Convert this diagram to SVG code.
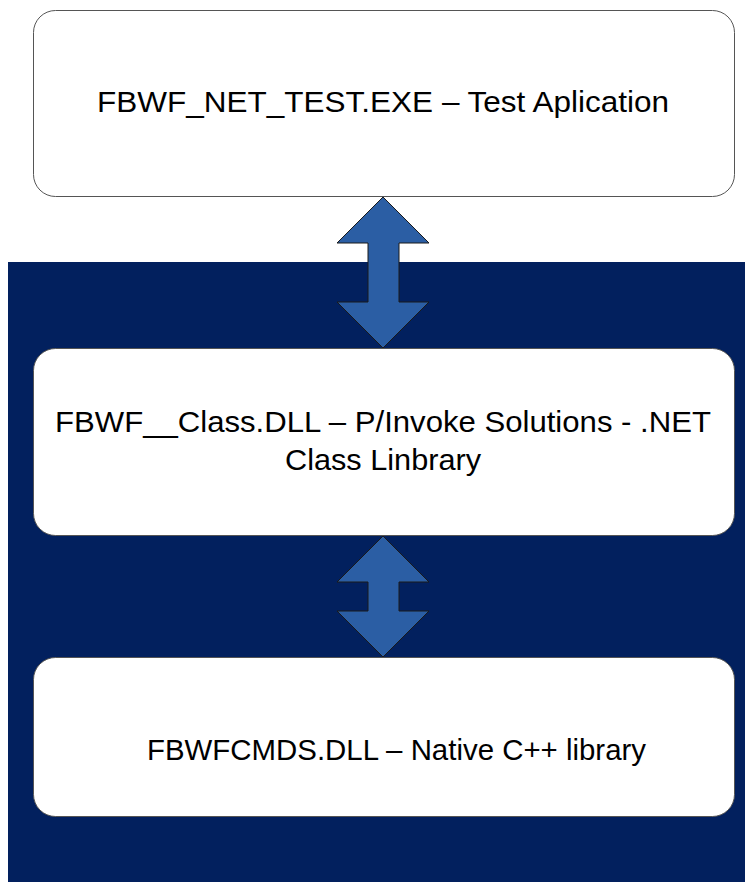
<svg xmlns="http://www.w3.org/2000/svg" width="745" height="882" viewBox="0 0 745 882">
<style>
.box{fill:#ffffff;stroke:#555555;stroke-width:1}
.lbl{font-family:"Liberation Sans",Arial,sans-serif;font-size:29px;fill:#000000;text-anchor:middle}
.arr{fill:#2B5EA4;stroke:#1a1a1a;stroke-width:1;stroke-linejoin:miter}
</style>
<rect x="0" y="0" width="745" height="882" fill="#ffffff"/>
<rect id="bg" x="8" y="262" width="737" height="620" fill="#02205E"/>
<g id="n1">
<rect class="box" x="33.5" y="10.5" width="701" height="186" rx="22"/>
<text class="lbl" x="383" y="112" textLength="572" lengthAdjust="spacingAndGlyphs">FBWF_NET_TEST.EXE – Test Aplication</text>
</g>
<g id="n2">
<rect class="box" x="33.5" y="348.5" width="701" height="187" rx="22"/>
<text class="lbl" x="383" y="432" textLength="656" lengthAdjust="spacingAndGlyphs">FBWF__Class.DLL – P/Invoke Solutions - .NET</text>
<text class="lbl" x="383" y="470" textLength="196" lengthAdjust="spacingAndGlyphs">Class Linbrary</text>
</g>
<g id="n3">
<rect class="box" x="33.5" y="657.5" width="701" height="159" rx="22"/>
<text class="lbl" x="396.5" y="760" textLength="499" lengthAdjust="spacingAndGlyphs">FBWFCMDS.DLL – Native C++ library</text>
</g>
<g id="connectors">
<polygon class="arr" points="383,197 429,243 399,243 399,302 429,302 383,348 337,302 368,302 368,243 337,243"/>
<polygon class="arr" points="383,536 429,582 399,582 399,611 429,611 383,657 337,611 368,611 368,582 337,582"/>
</g>
</svg>
